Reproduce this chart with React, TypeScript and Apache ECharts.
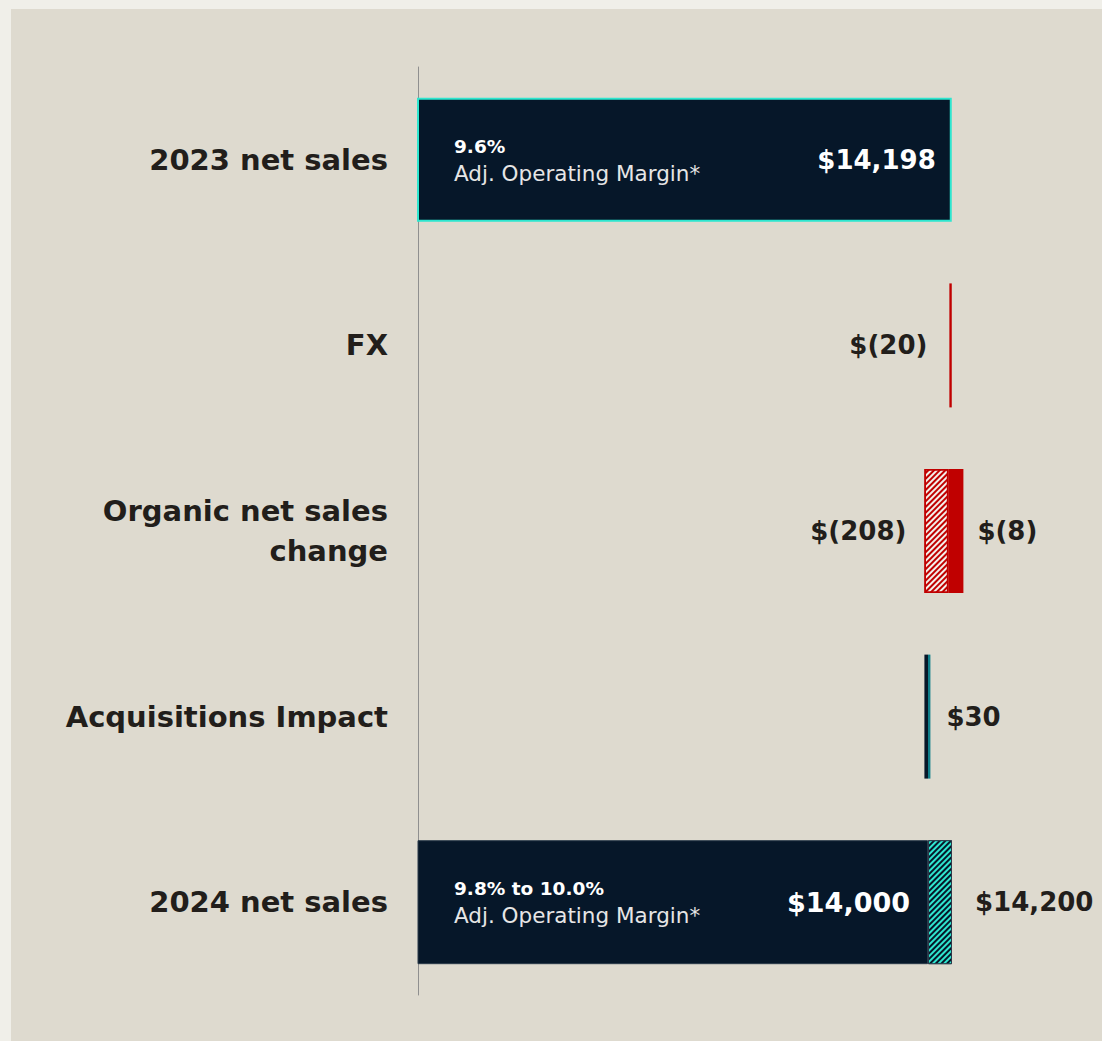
import React, { useEffect, useRef } from "react";
import * as echarts from "echarts";

const categories = ["2023 net sales", "FX", "Organic net sales\nchange", "Acquisitions Impact", "2024 net sales"];
const startValue = 14198;
const fxChange = -20;
const organicLow = -208;
const organicHigh = -8;
const acquisitions = 30;
const endLow = 14000;
const endHigh = 14200;
const marginLabels = ["9.6%", "9.8% to 10.0%"];
const valueLabels = ["$14,198", "$(20)", "$(208)", "$(8)", "$30", "$14,000", "$14,200"];

const NAVY = "#061729";
const RED = "#c00000";
const CYAN = "#2ee6cf";
const TEXT = "#221e1b";
const FONT = "'DejaVu Sans', sans-serif";

export default function App() {
  const ref = useRef<HTMLDivElement>(null);
  useEffect(() => {
    if (!ref.current) return;
    const chart = echarts.init(ref.current, undefined, { renderer: "svg" });
    const afterFx = startValue + fxChange;
    const organicBase = afterFx + organicLow;
    const dash = "-";
    const base = [dash, afterFx, organicBase, organicBase, dash];
    const common = { type: "bar", stack: "w", barWidth: 124, barGap: "-100%", silent: true };
    const bigLabel = { fontFamily: FONT, fontWeight: 700, fontSize: 26, color: TEXT };
    const innerLabel = (i: number) => ({
      show: true,
      position: "insideLeft",
      distance: 36,
      formatter: `{a|${marginLabels[i]}}\n{b|Adj. Operating Margin*}`,
      rich: {
        a: { fontFamily: FONT, fontSize: 18.5, fontWeight: 700, color: "#ffffff", lineHeight: 27 },
        b: { fontFamily: FONT, fontSize: 21.5, fontWeight: 400, color: "#e6e6e6", lineHeight: 27 },
      },
    });
    chart.setOption({
      animation: false,
      backgroundColor: "#f0efe9",
      graphic: [
        { type: "rect", z: -10, silent: true, shape: { x: 11, y: 9, width: 1200, height: 1100 }, style: { fill: "#dedacf" } },
      ],
      grid: { left: 418, right: 84, top: 67, bottom: 46, containLabel: false },
      xAxis: {
        type: "value",
        min: 9750,
        max: 14750,
        show: false,
      },
      yAxis: {
        type: "category",
        inverse: true,
        data: categories,
        axisLine: { show: true, lineStyle: { color: "#8f8f8f", width: 1 } },
        axisTick: { show: false },
        axisLabel: { margin: 30, fontFamily: FONT, fontWeight: 700, fontSize: 29, color: TEXT, lineHeight: 40, align: "right" },
      },
      series: [
        { ...common, name: "base", data: base, itemStyle: { color: "transparent" } },
        {
          ...common,
          name: "net sales",
          data: [
            { value: startValue, itemStyle: { borderColor: CYAN, borderWidth: 2 }, label: { show: true, position: "insideRight", distance: 16, formatter: valueLabels[0], ...bigLabel, color: "#ffffff" } },
            dash, dash, dash,
            { value: endLow, itemStyle: { borderColor: "#2a3a4a", borderWidth: 1 }, label: { show: true, position: "insideRight", distance: 18, formatter: valueLabels[5], ...bigLabel, fontSize: 27, color: "#ffffff" } },
          ],
          itemStyle: { color: NAVY },
        },
        {
          ...common,
          name: "FX",
          data: [dash, { value: -fxChange, label: { show: true, position: "left", distance: 22, formatter: valueLabels[1], ...bigLabel } }, dash, dash, dash],
          itemStyle: { color: RED },
        },
        {
          ...common,
          name: "organic range",
          data: [dash, dash, { value: organicHigh - organicLow, label: { show: true, position: "left", distance: 18, formatter: valueLabels[2], ...bigLabel } }, dash, dash],
          itemStyle: {
            color: "#f3efea",
            borderColor: RED,
            borderWidth: 1.5,
            decal: { symbol: "rect", symbolSize: 1, color: RED, backgroundColor: "#f3efea", dashArrayX: [1, 0], dashArrayY: [1.2, 2], rotation: -Math.PI / 4 },
          },
        },
        {
          ...common,
          name: "organic",
          barMinHeight: 15,
          data: [dash, dash, { value: -organicHigh, label: { show: true, position: "right", distance: 14, formatter: valueLabels[3], ...bigLabel } }, dash, dash],
          itemStyle: { color: RED },
        },
        {
          ...common,
          name: "acquisitions",
          barMinHeight: 6,
          data: [dash, dash, dash, { value: acquisitions, label: { show: true, position: "right", distance: 16, formatter: valueLabels[4], ...bigLabel } }, dash],
          itemStyle: {
            color: new echarts.graphic.LinearGradient(0, 0, 1, 0, [
              { offset: 0, color: NAVY },
              { offset: 0.6, color: NAVY },
              { offset: 0.61, color: "#0f7f8a" },
              { offset: 1, color: "#0f7f8a" },
            ]),
          },
        },
        {
          ...common,
          name: "2024 range",
          data: [dash, dash, dash, dash, { value: endHigh - endLow, label: { show: true, position: "right", distance: 23, formatter: valueLabels[6], ...bigLabel } }],
          itemStyle: {
            color: NAVY,
            borderColor: "#2a3a4a",
            borderWidth: 1,
            decal: { symbol: "rect", symbolSize: 1, color: CYAN, backgroundColor: NAVY, dashArrayX: [1, 0], dashArrayY: [1.4, 2], rotation: -Math.PI / 4 },
          },
        },
        {
          type: "bar",
          name: "margin",
          barWidth: 124,
          barGap: "-100%",
          silent: true,
          data: [
            { value: startValue, label: innerLabel(0) },
            dash, dash, dash,
            { value: endLow, label: innerLabel(1) },
          ],
          itemStyle: { color: "transparent" },
        },
      ],
    });
    return () => chart.dispose();
  }, []);
  return <div ref={ref} style={{ position: "absolute", left: 0, top: 0, width: 1102, height: 1041 }} />;
}
